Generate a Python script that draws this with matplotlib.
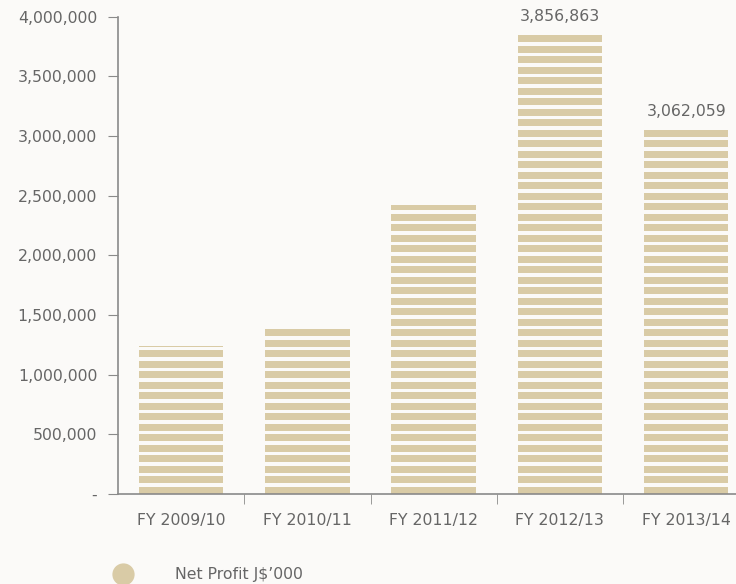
import numpy as np
import matplotlib.pyplot as plt
from matplotlib.lines import Line2D
from matplotlib.ticker import FuncFormatter

years = ['FY 2009/10', 'FY 2010/11', 'FY 2011/12', 'FY 2012/13', 'FY 2013/14']
net_profit = [1240000, 1395000, 2420000, 3856863, 3062059]
labelled = [False, False, False, True, True]

bg = '#fbfaf8'
tan = '#d9cba6'
grey = '#666666'
axis_grey = '#8a8a8a'

plt.rcParams['font.family'] = ['DejaVu Sans']
fs = 11.3

fig = plt.figure(figsize=(7.36, 5.84), dpi=100, facecolor=bg)
ax = fig.add_axes([118/736, 90/584, 618/736, 477.3/584], facecolor=bg)

x = np.arange(len(years))
period = 88000
stripe = 60000
for xi, v in zip(x, net_profit):
    bottoms = np.arange(0, v, period)
    heights = np.minimum(stripe, v - bottoms)
    ax.bar(np.full(len(bottoms), xi), heights, bottom=bottoms, width=0.67,
           color=tan, linewidth=0)

for xi, v, lab in zip(x, net_profit, labelled):
    if lab:
        ax.annotate(f'{v:,}', (xi, v), xytext=(0, 7), textcoords='offset points',
                    ha='center', va='bottom', color=grey, fontsize=fs)

ax.set_xlim(-0.5, 4.395)
ax.set_ylim(0, 4000000)
ax.set_yticks(np.arange(0, 4000001, 500000))
ax.yaxis.set_major_formatter(FuncFormatter(lambda v, p: '-' if v == 0 else f'{int(v):,}'))

ax.set_xticks(x)
ax.set_xticklabels(years)
ax.set_xticks(x[:-1] + 0.5, minor=True)
ax.tick_params(axis='x', which='major', length=0, pad=14, colors=grey, labelsize=fs)
ax.tick_params(axis='x', which='minor', length=7, color=axis_grey, direction='out')
ax.tick_params(axis='y', length=7, color=axis_grey, pad=8, labelcolor=grey, labelsize=fs)

for s in ['top', 'right']:
    ax.spines[s].set_visible(False)
for s in ['left', 'bottom']:
    ax.spines[s].set_color(axis_grey)
    ax.spines[s].set_linewidth(1.2)

handle = Line2D([], [], marker='o', ls='', color=tan, markersize=15)
fig.legend([handle], ["Net Profit J$\u2019000"], loc='center left',
           bbox_to_anchor=(93/736, 1 - 575/584), frameon=False,
           handletextpad=2.3, labelcolor=grey, fontsize=fs)

fig.savefig('out.png', dpi=100, facecolor=bg)
